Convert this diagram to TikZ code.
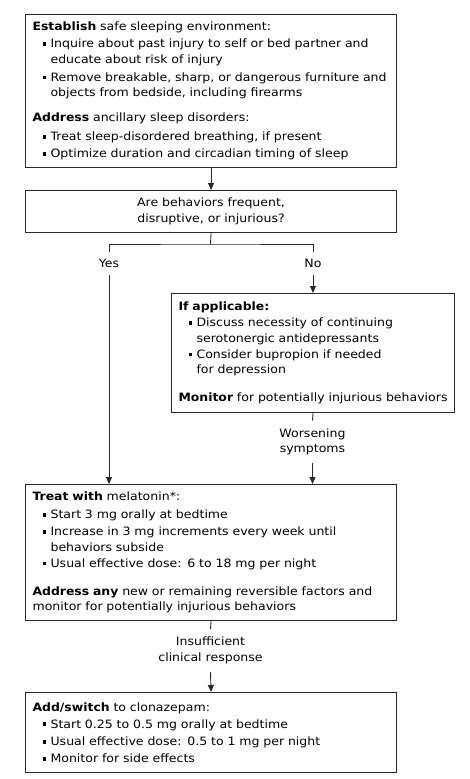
\documentclass[tikz,border=0pt]{standalone}
\usepackage{fontspec}
\setmainfont{DejaVu Sans}[FakeStretch=1.09, BoldFeatures={FakeStretch=1.08}]
\usetikzlibrary{arrows.meta}
\definecolor{boxc}{RGB}{40,40,40}
\newcommand\bul{\makebox[8pt][l]{\raisebox{1.8pt}{\rule{3.8pt}{3.8pt}}}}
\newcommand\ind{\hspace*{10pt}}
\newcommand\cont{\hspace*{18pt}}
\newcommand\fs{\fontsize{11.5}{15.5}\selectfont}
\begin{document}
\begin{tikzpicture}[x=1pt,y=1pt,
  box/.style={draw=boxc, line width=1.1pt, rectangle, inner xsep=7pt, inner ysep=0pt,
    align=left, anchor=north west, font=\fs},
  lab/.style={font=\fs, align=center, inner sep=0pt, outer sep=8pt},
  arr/.style={-{Triangle[length=7pt,width=6pt]}, line width=0.9pt, draw=boxc},
  ln/.style={line width=0.9pt, draw=boxc}]
\useasboundingbox (0,0) rectangle (470,-779);

\node[box, text width=357pt, minimum height=153pt] (b1) at (25,-14) {%
\mbox{\textbf{Establish} safe sleeping environment:}\\[1.5pt]
\mbox{\ind\bul Inquire about past injury to self or bed partner and}\\
\cont educate about risk of injury\\[2.5pt]
\mbox{\ind\bul Remove breakable, sharp, or dangerous furniture and}\\
\cont objects from bedside, including firearms\\[9.5pt]
\textbf{Address} ancillary sleep disorders:\\[3.5pt]
\ind\bul Treat sleep-disordered breathing, if present\\[1.5pt]
\mbox{\ind\bul Optimize duration and circadian timing of sleep}};

\node[box, align=center, text width=357pt, minimum height=42pt] (b2) at (25,-190)
  {Are behaviors frequent,\\disruptive, or injurious?};

\node[box, text width=269pt, minimum height=119pt] (b3) at (171,-293) {%
\textbf{If applicable:}\\[0.5pt]
\ind\bul Discuss necessity of continuing\\
\cont serotonergic antidepressants\\[0.5pt]
\ind\bul Consider bupropion if needed\\
\cont for depression\\[12.5pt]
\mbox{\textbf{Monitor} for potentially injurious behaviors}};

\node[box, text width=357pt, minimum height=136pt] (b4) at (25,-484) {%
\textbf{Treat with} melatonin*:\\[2.5pt]
\ind\bul Start 3 mg orally at bedtime\\[1.5pt]
\mbox{\ind\bul Increase in 3 mg increments every week until}\\
\cont behaviors subside\\[0.5pt]
\ind\bul Usual effective dose: 6 to 18 mg per night\\[12.5pt]
\mbox{\textbf{Address any} new or remaining reversible factors and}\\
monitor for potentially injurious behaviors};

\node[box, text width=357pt, minimum height=80pt] (b5) at (25,-692) {%
\textbf{Add/switch} to clonazepam:\\[1.5pt]
\ind\bul Start 0.25 to 0.5 mg orally at bedtime\\[2pt]
\ind\bul Usual effective dose: 0.5 to 1 mg per night\\[1.5pt]
\ind\bul Monitor for side effects};

\node[lab] (yes) at (109,-263) {Yes};
\node[lab] (no) at (313,-263) {No};
\node[lab] (wors) at (312.5,-442) {Worsening\\symptoms};
\node[lab] (insuf) at (210.5,-650.5) {Insufficient\\clinical response};

\coordinate (br) at (210.5,-244);
\coordinate (yt) at (109,-252);
\coordinate (nt) at (313,-252);

\draw[arr] (b1.south) -- (b2.north);
\draw[ln] (b2.south) -- (br);
\draw[ln] (yt) |- (br) -| (nt);
\draw[arr] (no.south) -- (no.south |- b3.north);
\draw[arr] (yes.south) -- (yes.south |- b4.north);
\draw[ln] (b3.south) -- (wors.north);
\draw[arr] (wors.south) -- (wors.south |- b4.north);
\draw[ln] (b4.south) -- (insuf.north);
\draw[arr] (insuf.south) -- (b5.north);
\end{tikzpicture}
\end{document}
